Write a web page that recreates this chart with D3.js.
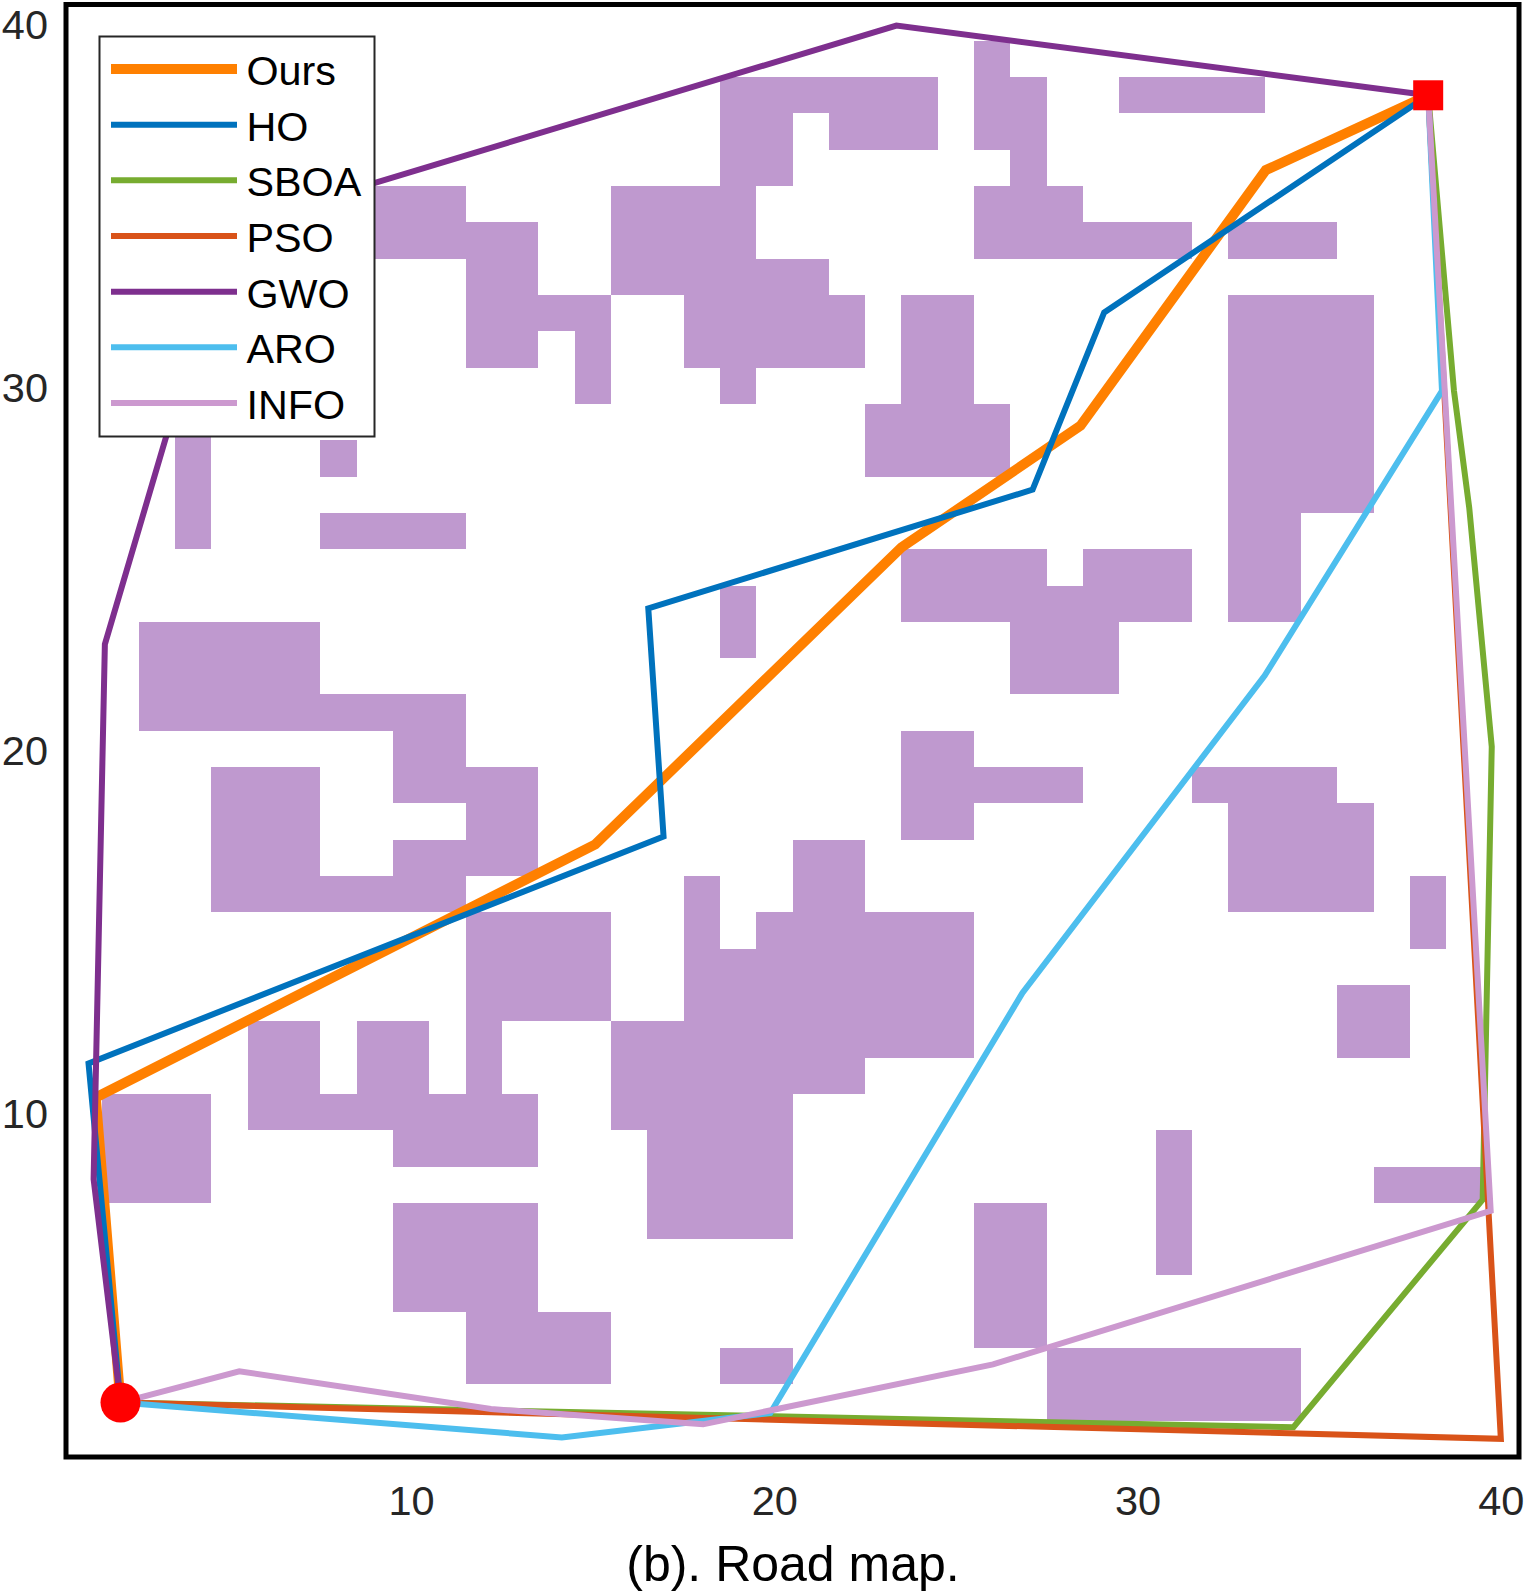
<!DOCTYPE html>
<html>
<head>
<meta charset="utf-8">
<style>
html,body{margin:0;padding:0;background:#fff;}
svg{display:block;font-family:"Liberation Sans",Arial,sans-serif;}
</style>
<script src="https://cdn.jsdelivr.net/npm/d3@7"></script>
</head>
<body>
<svg id="chart" width="1525" height="1594"></svg>
<script>
const xTicks = [10,20,30,40];
const yTicks = [10,20,30,40];
const titleText = "(b). Road map.";

// obstacle runs: [row, first column, last column]
const obstacles = [
[39,26,26],
[38,19,24],[38,26,27],[38,30,33],
[37,19,20],[37,22,24],[37,26,27],
[36,19,20],[36,27,27],
[35,9,11],[35,16,19],[35,26,28],
[34,9,13],[34,16,19],[34,26,31],[34,33,35],
[33,12,13],[33,16,21],
[32,12,15],[32,18,22],[32,24,25],[32,33,36],
[31,12,13],[31,15,15],[31,18,22],[31,24,25],[31,33,36],
[30,15,15],[30,19,19],[30,24,25],[30,33,36],
[29,4,4],[29,23,26],[29,33,36],
[28,4,4],[28,8,8],[28,23,26],[28,33,36],
[27,4,4],[27,33,36],
[26,4,4],[26,8,11],[26,33,34],
[25,24,27],[25,29,31],[25,33,34],
[24,19,19],[24,24,31],[24,33,34],
[23,3,7],[23,19,19],[23,27,29],
[22,3,7],[22,27,29],
[21,3,11],
[20,10,11],[20,24,25],
[19,5,7],[19,10,13],[19,24,28],[19,32,35],
[18,5,7],[18,12,13],[18,24,25],[18,33,36],
[17,5,7],[17,10,13],[17,21,22],[17,33,36],
[16,5,11],[16,18,18],[16,21,22],[16,33,36],[16,38,38],
[15,12,15],[15,18,18],[15,20,25],[15,38,38],
[14,12,15],[14,18,25],
[13,12,15],[13,18,25],[13,36,37],
[12,6,7],[12,9,10],[12,12,12],[12,16,25],[12,36,37],
[11,6,7],[11,9,10],[11,12,12],[11,16,22],
[10,2,4],[10,6,13],[10,16,20],
[9,2,4],[9,10,13],[9,17,20],[9,31,31],
[8,2,4],[8,17,20],[8,31,31],[8,37,39],
[7,10,13],[7,17,20],[7,26,27],[7,31,31],
[6,10,13],[6,26,27],[6,31,31],
[5,10,13],[5,26,27],
[4,12,15],[4,26,27],
[3,12,15],[3,19,20],[3,28,34],
[2,28,34]
];

const startPoint = [2,2];
const endPoint = [38,38];

const seriesNames = ["Ours","HO","SBOA","PSO","GWO","ARO","INFO"];
const seriesColors = ["#FF8000","#0072BD","#77AC30","#D95319","#7E2F8E","#4DBEEE","#CC99CF"];
const seriesWidths = [10,6,6,6,6,6,6];

const oursPath = [[2,2],[1.32,10.4],[15.07,17.37],[23.5,25.55],[28.43,28.9],[33.53,35.94],[38,38]];
const hoPath   = [[2,2],[1.12,11.34],[16.95,17.59],[16.53,23.87],[27.11,27.14],[29.08,32.02],[38,38]];
const sboaPath = [[2,2],[34.29,1.32],[39.5,7.59],[39.75,20.06],[39.13,26.64],[38.71,29.86],[38,38]];
const psoPath  = [[2,2],[40,1.0],[38,38]];
const gwoPath  = [[2,2],[1.26,8.15],[1.57,22.88],[4.96,34.37],[23.36,39.92],[38,38]];
const aroPath  = [[2,2],[14.15,1.04],[19.89,1.71],[26.83,13.28],[33.5,22.02],[38.38,29.86],[38,38]];
const infoPath = [[2,2],[5.27,2.86],[12.2,1.82],[18.04,1.4],[26.02,3.05],[39.72,7.28],[38,38]];
const allPaths = [oursPath,hoPath,sboaPath,psoPath,gwoPath,aroPath,infoPath];

const svg = d3.select("#chart");
const plotLeft=66, plotRight=1519, plotTop=4.5, plotBottom=1457;
const x = d3.scaleLinear().domain([0.5,40.5]).range([plotLeft,plotRight]);
const y = d3.scaleLinear().domain([0.5,40.5]).range([plotBottom,plotTop]);

svg.append("g").selectAll("rect").data(obstacles).join("rect")
  .attr("x",d=>x(d[1]-0.5))
  .attr("y",d=>y(d[0]+0.5))
  .attr("width",d=>x(d[2]+0.5)-x(d[1]-0.5))
  .attr("height",d=>y(d[0]-0.5)-y(d[0]+0.5))
  .attr("fill","#BF99CF")
  .attr("shape-rendering","crispEdges");

const line = d3.line().x(d=>x(d[0])).y(d=>y(d[1]));
svg.append("g").selectAll("path").data(allPaths).join("path")
  .attr("d",line)
  .attr("fill","none")
  .attr("stroke",(d,i)=>seriesColors[i])
  .attr("stroke-width",(d,i)=>seriesWidths[i])
  .attr("stroke-linejoin","miter")
  .attr("stroke-miterlimit",10);

svg.append("circle").attr("cx",x(startPoint[0])).attr("cy",y(startPoint[1])).attr("r",20).attr("fill","#FF0000");
svg.append("rect").attr("x",x(endPoint[0])-15).attr("y",y(endPoint[1])-15).attr("width",30).attr("height",30).attr("fill","#FF0000");

// frame
svg.append("rect").attr("x",plotLeft).attr("y",plotTop).attr("width",plotRight-plotLeft).attr("height",plotBottom-plotTop)
  .attr("fill","none").attr("stroke","#000").attr("stroke-width",5);

// axes
const xAxis = d3.axisBottom(x).tickValues(xTicks).tickSize(0).tickPadding(29);
const yAxis = d3.axisLeft(y).tickValues(yTicks).tickSize(0).tickPadding(18);
const gx = svg.append("g").attr("transform",`translate(0,${plotBottom})`).call(xAxis);
const gy = svg.append("g").attr("transform",`translate(${plotLeft},0)`).call(yAxis);
[gx,gy].forEach(g=>{
  g.select(".domain").remove();
  g.selectAll("text").attr("fill","#262626").style("font-size","41.5px").style("font-family",'"Liberation Sans",Arial,sans-serif');
});
gy.selectAll("text").attr("dy","0.37em");

svg.append("text").attr("x",793).attr("y",1581).attr("text-anchor","middle")
  .attr("fill","#000").style("font-size","50px").text(titleText);

// legend
const legend = svg.append("g");
legend.append("rect").attr("x",99.5).attr("y",36.5).attr("width",275).attr("height",400)
  .attr("fill","#fff").attr("stroke","#262626").attr("stroke-width",2);
const legendY = d3.scalePoint().domain(seriesNames).range([69,403]);
const items = legend.selectAll("g").data(seriesNames).join("g");
items.append("line").attr("x1",111).attr("x2",237)
  .attr("y1",d=>legendY(d)).attr("y2",d=>legendY(d))
  .attr("stroke",(d,i)=>seriesColors[i]).attr("stroke-width",(d,i)=>seriesWidths[i]);
items.append("text").attr("x",246.5).attr("y",d=>legendY(d)+16)
  .attr("fill","#000").style("font-size","41.3px").text(d=>d);
</script>
</body>
</html>
